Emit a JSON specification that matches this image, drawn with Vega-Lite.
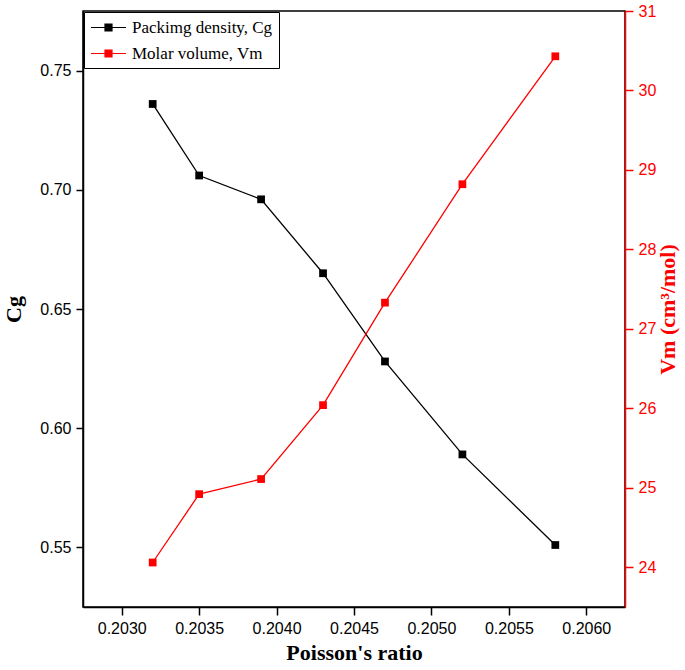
{
  "$schema": "https://vega.github.io/schema/vega-lite/v6.json",
  "width": 542,
  "height": 596,
  "autosize": {"type": "none"},
  "padding": {"left": 83, "top": 11, "right": 60, "bottom": 63},
  "background": "white",
  "config": {
    "view": {"stroke": "black", "strokeWidth": 1.5},
    "axis": {"grid": false, "labelFont": "Liberation Sans", "labelFontSize": 16, "titleFont": "Liberation Serif", "titleFontWeight": "bold", "titleFontSize": 22}
  },
  "datasets": {
    "cg": [
      {"ratio": 0.2032, "value": 0.736, "series": "Packimg density, Cg"},
      {"ratio": 0.2035, "value": 0.706, "series": "Packimg density, Cg"},
      {"ratio": 0.2039, "value": 0.696, "series": "Packimg density, Cg"},
      {"ratio": 0.2043, "value": 0.665, "series": "Packimg density, Cg"},
      {"ratio": 0.2047, "value": 0.628, "series": "Packimg density, Cg"},
      {"ratio": 0.2052, "value": 0.589, "series": "Packimg density, Cg"},
      {"ratio": 0.2058, "value": 0.551, "series": "Packimg density, Cg"}
    ],
    "vm": [
      {"ratio": 0.2032, "value": 24.06, "series": "Molar volume, Vm"},
      {"ratio": 0.2035, "value": 24.92, "series": "Molar volume, Vm"},
      {"ratio": 0.2039, "value": 25.11, "series": "Molar volume, Vm"},
      {"ratio": 0.2043, "value": 26.04, "series": "Molar volume, Vm"},
      {"ratio": 0.2047, "value": 27.33, "series": "Molar volume, Vm"},
      {"ratio": 0.2052, "value": 28.82, "series": "Molar volume, Vm"},
      {"ratio": 0.2058, "value": 30.43, "series": "Molar volume, Vm"}
    ]
  },
  "layer": [
    {
      "data": {"name": "cg"},
      "encoding": {
        "x": {
          "field": "ratio", "type": "quantitative",
          "scale": {"domain": [0.20275, 0.20625], "nice": false, "zero": false},
          "axis": {
            "orient": "bottom",
            "tickCount": 7,
            "format": ".4f",
            "tickSize": 8,
            "tickWidth": 1.5,
            "labelPadding": 5,
            "labelColor": "black",
            "domainColor": "black",
            "domainWidth": 1.5,
            "tickColor": "black",
            "title": "Poisson's ratio",
            "titleColor": "black",
            "titlePadding": 6
          }
        },
        "y": {
          "field": "value", "type": "quantitative",
          "scale": {"domain": [0.525, 0.775], "nice": false, "zero": false},
          "axis": {
            "orient": "left",
            "tickCount": 5,
            "format": ".2f",
            "tickSize": 7,
            "tickWidth": 1.5,
            "labelPadding": 5,
            "labelColor": "black",
            "domainColor": "black",
            "domainWidth": 1.5,
            "tickColor": "black",
            "title": "Cg",
            "titleColor": "black",
            "titlePadding": 14
          }
        },
        "color": {
          "field": "series", "type": "nominal",
          "scale": {"domain": ["Packimg density, Cg", "Molar volume, Vm"], "range": ["#000000", "#ff0000"]},
          "legend": {
            "title": null,
            "orient": "top-left",
            "offset": 1,
            "padding": 6,
            "fillColor": "white",
            "strokeColor": "black",
            "labelFont": "Liberation Serif",
            "labelFontSize": 17,
            "labelColor": "black",
            "labelOffset": 14,
            "rowPadding": 8,
            "symbolOffset": 9,
            "symbolType": "M-2,0H2M-0.4,-0.4H0.4V0.4H-0.4Z",
            "symbolSize": 306,
            "symbolStrokeWidth": 1.2,
            "encode": {"symbols": {"update": {"fill": {"scale": "color", "field": "value"}, "stroke": {"scale": "color", "field": "value"}, "fillOpacity": {"value": 1}, "opacity": {"value": 1}}}}
          }
        }
      },
      "layer": [
        {"mark": {"type": "line", "strokeWidth": 1.3}},
        {"mark": {"type": "point", "shape": "square", "filled": true, "size": 60, "opacity": 1}}
      ]
    },
    {
      "data": {"name": "vm"},
      "encoding": {
        "x": {
          "field": "ratio", "type": "quantitative",
          "scale": {"domain": [0.20275, 0.20625], "nice": false, "zero": false},
          "axis": null
        },
        "y": {
          "field": "value", "type": "quantitative",
          "scale": {"domain": [23.5, 31], "nice": false, "zero": false},
          "axis": {
            "orient": "right",
            "tickCount": 7,
            "format": "d",
            "tickSize": 8,
            "tickWidth": 1.5,
            "labelPadding": 5,
            "labelColor": "#ff0000",
            "domainColor": "#ff0000",
            "domainWidth": 1.5,
            "tickColor": "#ff0000",
            "title": "Vm (cm³/mol)",
            "titleColor": "#ff0000",
            "titleAngle": 270,
            "titlePadding": 24
          }
        },
        "color": {"field": "series", "type": "nominal"}
      },
      "layer": [
        {"mark": {"type": "line", "strokeWidth": 1.3}},
        {"mark": {"type": "point", "shape": "square", "filled": true, "size": 60, "opacity": 1}}
      ]
    }
  ],
  "resolve": {"scale": {"x": "independent", "y": "independent"}, "axis": {"x": "independent", "y": "independent"}}
}
